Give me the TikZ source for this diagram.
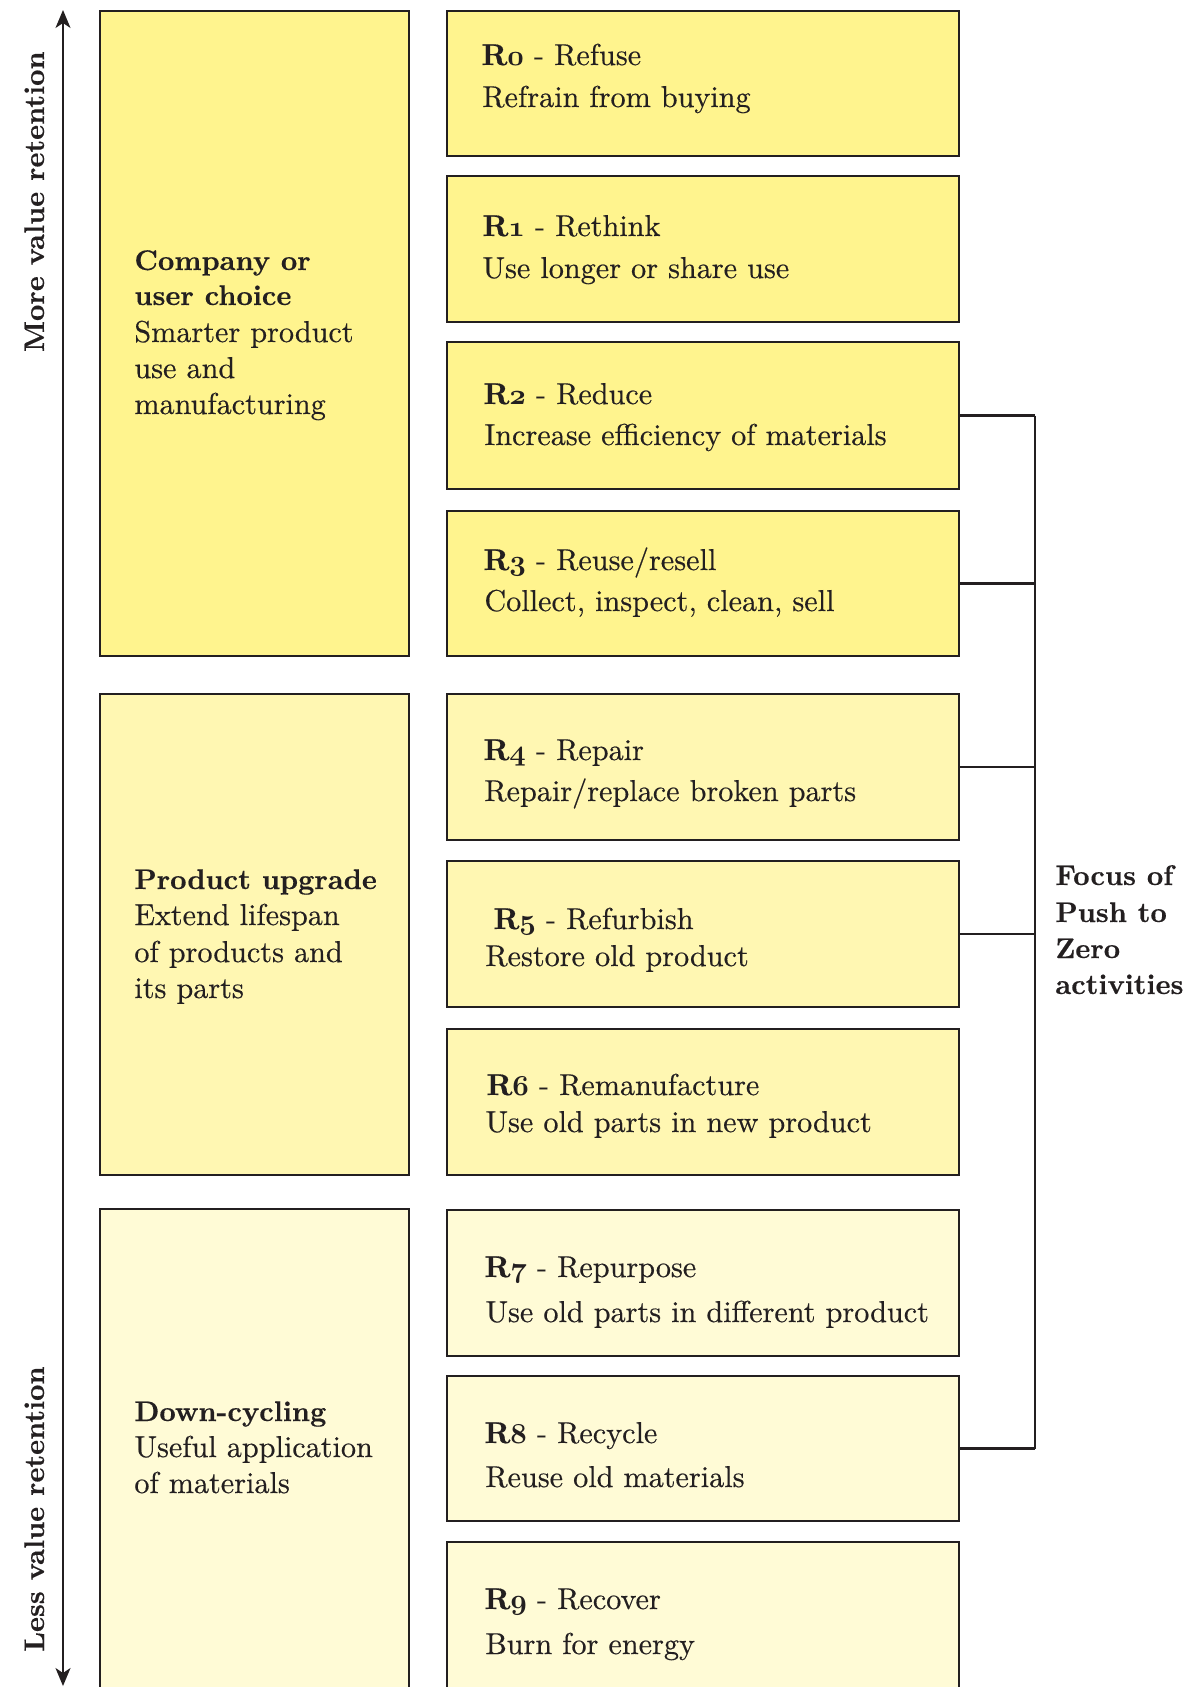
\documentclass[tikz,border=0pt]{standalone}
\usepackage{fontspec}
\setmainfont{lmroman10-regular.otf}[
  BoldFont=lmroman10-bold.otf,
  UprightFeatures={FakeBold=0.4},
  BoldFeatures={FakeBold=0.4}]
\usetikzlibrary{arrows.meta,fit}

\definecolor{ink}{RGB}{35,31,32}
\definecolor{yA}{RGB}{255,244,142}
\definecolor{yB}{RGB}{255,247,178}
\definecolor{yC}{RGB}{255,251,214}

% bold "R" followed by a bold old-style figure
\newcommand\Rnum[1]{{\bfseries R}{\usefont{OML}{cmm}{b}{it}#1}}

\begin{document}
\begin{tikzpicture}[x=0.5pt,y=-0.5pt,
  box/.style={draw=ink, line width=1.35pt, inner sep=0pt, rectangle},
  txt/.style={anchor=base west, inner sep=0pt, text=ink, font=\fontsize{15.1}{18}\selectfont},
  hd/.style={anchor=base west, inner sep=0pt, text=ink, font=\fontsize{14.2}{17}\selectfont\bfseries},
  link/.style={draw=ink, line width=1.1pt},
  axis/.style={draw=ink, line width=1pt, >={Stealth[length=9pt,width=7.5pt,inset=2.5pt]}, <->}]

\useasboundingbox (0,0) rectangle (1189,1687);
\clip (0,0) rectangle (1189,1687);

% ---- left column: groups ----
\node[box, fill=yA, fit={(100,11) (409,656)}] (g1) {};
\node[box, fill=yB, fit={(100,694) (409,1175)}] (g2) {};
\node[box, fill=yC, fit={(100,1209) (409,1730)}] (g3) {};

% ---- right column: R-strategies ----
\node[box, fill=yA, fit={(447,11) (959,156)}]   (r0) {};
\node[box, fill=yA, fit={(447,176) (959,322)}]  (r1) {};
\node[box, fill=yA, fit={(447,342) (959,489)}]  (r2) {};
\node[box, fill=yA, fit={(447,511) (959,656)}]  (r3) {};
\node[box, fill=yB, fit={(447,694) (959,840)}]  (r4) {};
\node[box, fill=yB, fit={(447,861) (959,1007)}] (r5) {};
\node[box, fill=yB, fit={(447,1029) (959,1175)}] (r6) {};
\node[box, fill=yC, fit={(447,1210) (959,1356)}] (r7) {};
\node[box, fill=yC, fit={(447,1376) (959,1521)}] (r8) {};
\node[box, fill=yC, fit={(447,1542) (959,1730)}] (r9) {};

% ---- group texts ----
\node[hd]  (g1a) at (134,270) {Company or};
\node[hd]  (g1b) at (134,305) {user choice};
\node[txt] (g1c) at (134,342) {Smarter product};
\node[txt] (g1d) at (134,378) {use and};
\node[txt] (g1e) at (134,414) {manufacturing};

\node[hd]  (g2a) at (134,889) {Product upgrade};
\node[txt] (g2b) at (134,925) {Extend lifespan};
\node[txt] (g2c) at (134,962) {of products and};
\node[txt] (g2d) at (134,998) {its parts};

\node[hd]  (g3a) at (134,1421) {Down-cycling};
\node[txt] (g3b) at (134,1457) {Useful application};
\node[txt] (g3c) at (134,1493) {of materials};

% ---- strategy texts ----
\node[txt] (t0a) at (481,65)  {\Rnum{0} - Refuse};
\node[txt] (t0b) at (482,107) {Refrain from buying};
\node[txt] (t1a) at (482,236) {\Rnum{1} - Rethink};
\node[txt] (t1b) at (482,278) {Use longer or share use};
\node[txt] (t2a) at (483,404) {\Rnum{2} - Reduce};
\node[txt] (t2b) at (484,445) {Increase efficiency of materials};
\node[txt] (t3a) at (483,570) {\Rnum{3} - Reuse/resell};
\node[txt] (t3b) at (484,611) {Collect, inspect, clean, sell};
\node[txt] (t4a) at (483,760) {\Rnum{4} - Repair};
\node[txt] (t4b) at (484,801) {Repair/replace broken parts};
\node[txt] (t5a) at (493,929) {\Rnum{5} - Refurbish};
\node[txt] (t5b) at (485,966) {Restore old product};
\node[txt] (t6a) at (486,1095) {\Rnum{6} - Remanufacture};
\node[txt] (t6b) at (485,1132) {Use old parts in new product};
\node[txt] (t7a) at (484,1277) {\Rnum{7} - Repurpose};
\node[txt] (t7b) at (485,1322) {Use old parts in different product};
\node[txt] (t8a) at (484,1443) {\Rnum{8} - Recycle};
\node[txt] (t8b) at (485,1487) {Reuse old materials};
\node[txt] (t9a) at (484,1609) {\Rnum{9} - Recover};
\node[txt] (t9b) at (485,1654) {Burn for energy};

% ---- bracket of Push to Zero activities ----
\coordinate (spine) at (1035,0);
\foreach \b in {r2,r3,r4,r5,r8}
  \draw[link] (\b.east) -- (\b.east -| spine);
\draw[link] (r2.east -| spine) -- (r8.east -| spine);

\node[hd] (f1) at (1055,885) {Focus of};
\node[hd] (f2) at (1055,922) {Push to};
\node[hd] (f3) at (1055,958) {Zero};
\node[hd] (f4) at (1055,994) {activities};

% ---- value retention axis ----
\coordinate (axTop) at (63,10);
\coordinate (axBot) at (63,1686);
\draw[axis] (axBot) -- (axTop);

\node[hd, anchor=base east, rotate=90] (more) at (44,51) {More value retention};
\node[hd, anchor=base west, rotate=90] (less) at (44,1652) {Less value retention};

\end{tikzpicture}
\end{document}
